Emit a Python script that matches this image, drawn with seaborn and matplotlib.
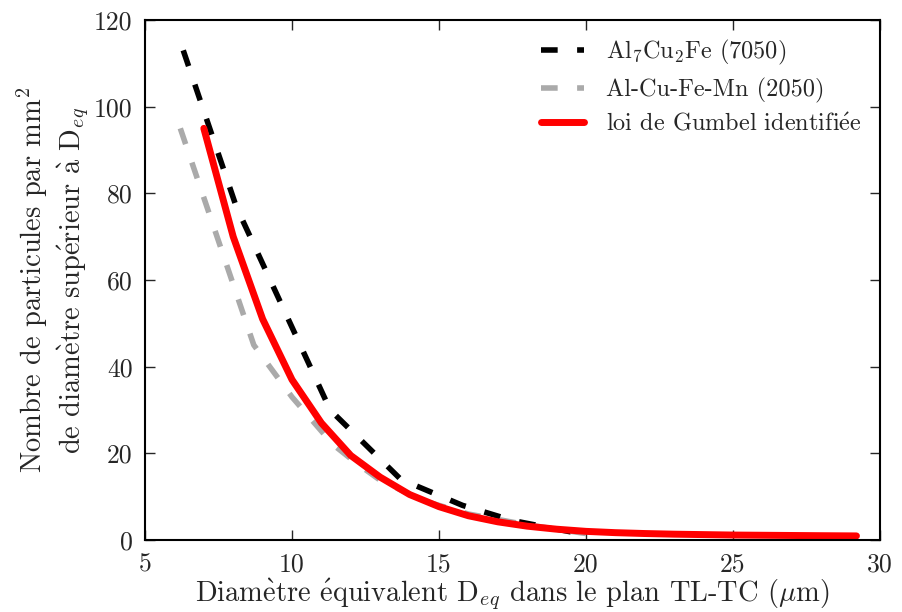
import matplotlib
matplotlib.use("Agg")
import matplotlib.pyplot as plt
import seaborn as sns
import numpy as np

# black dashed curve: Al7Cu2Fe (7050)
d_7050 = [6.3, 8.1, 11.3, 13.7, 15.8, 17.5, 20.0]
n_7050 = [113, 77, 30, 14, 8, 4.5, 1.2]

# grey dashed curve: Al-Cu-Fe-Mn (2050)
d_2050 = [6.2, 8.7, 10.0, 11.4, 12.2, 13.0, 14.5, 16.0, 18.0, 20.0]
n_2050 = [95, 45, 33, 22, 17.7, 13.8, 9, 6, 3.5, 1.5]

# red curve: fitted Gumbel law
d_fit = [7, 8, 9, 10, 11, 12, 13, 14, 15, 16, 17, 18, 19, 20, 21, 22,
         23, 24, 25, 26, 27, 28, 29.2]
n_fit = [95, 70, 51, 37, 27, 19.5, 14.5, 10.5, 7.7, 5.6, 4.2, 3.2, 2.5, 2.0,
         1.7, 1.5, 1.35, 1.25, 1.15, 1.1, 1.05, 1.0, 0.95]

# cmr10 has no accented glyphs -> accents through mathtext
labels = [r"Al$_7$Cu$_2$Fe (7050)", "Al-Cu-Fe-Mn (2050)",
          r"loi de Gumbel identifi$\acute{\rm e}$e"]
xlab = r"Diam$\grave{\rm e}$tre $\acute{\rm e}$quivalent D$_{eq}$ dans le plan TL-TC ($\mu$m)"
ylab = ("Nombre de particules par mm$^2$\n"
        r"de diam$\grave{\rm e}$tre sup$\acute{\rm e}$rieur $\grave{\rm a}$ D$_{eq}$")

sns.set_style("ticks")
plt.rcParams['font.family'] = ['cmr10', 'DejaVu Serif']
plt.rcParams['mathtext.fontset'] = 'cm'
plt.rcParams['axes.unicode_minus'] = False

fig = plt.figure(figsize=(9.03, 6.12), dpi=100)
ax = fig.add_axes([0.1606, 0.1176, 0.8139, 0.8497])

sns.lineplot(x=d_7050, y=n_7050, ax=ax, color='black', lw=4,
             linestyle=(0, (3, 3.5)), label=labels[0])
sns.lineplot(x=d_2050, y=n_2050, ax=ax, color='#aaaaaa', lw=4,
             linestyle=(0, (3, 3.5)), label=labels[1])
sns.lineplot(x=d_fit, y=n_fit, ax=ax, color='red', lw=5, label=labels[2])

ax.set_xlim(5, 30)
ax.set_ylim(0, 120)
ax.set_xticks(np.arange(5, 31, 5))
ax.set_yticks(np.arange(0, 121, 20))
ax.tick_params(direction='in', length=7, width=1, top=True, right=True,
               labelsize=18.5, pad=9)
for s in ax.spines.values():
    s.set_linewidth(1.5)
    s.set_color('black')

ax.set_xlabel(xlab, fontsize=20.5, labelpad=0)
ax.set_ylabel(ylab, fontsize=20.5, labelpad=2)

ax.legend(loc='upper right', frameon=False, fontsize=17.5, handlelength=1.8,
          handletextpad=0.9, labelspacing=0.42, borderaxespad=0.35)

fig.savefig('out.png', dpi=100)
